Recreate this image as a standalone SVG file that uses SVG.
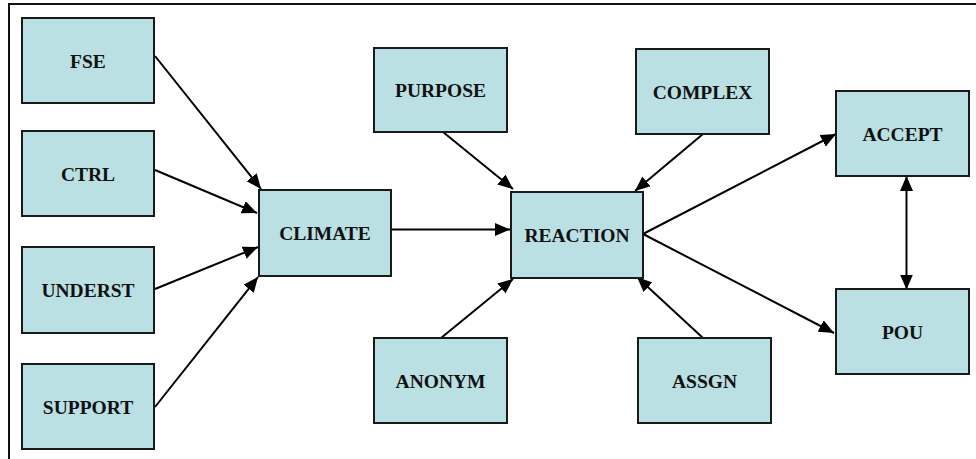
<svg xmlns="http://www.w3.org/2000/svg" width="976" height="459" viewBox="0 0 976 459">
  <style>
    .box { fill: #bae0e3; stroke: #1a1a1a; stroke-width: 2; }
    .lbl { font-weight: bold; font-size: 19.5px; fill: #111; text-anchor: middle; }
    .edge { stroke: #000; stroke-width: 2; fill: none; }
    .frame { stroke: #111; stroke-width: 2; fill: none; }
  </style>
  <defs>
    <marker id="head" markerUnits="userSpaceOnUse" markerWidth="16" markerHeight="14" refX="15" refY="6.5" orient="auto">
      <path d="M0,0 L15,6.5 L0,13 Z" fill="#000"/>
    </marker>
    <marker id="tail" markerUnits="userSpaceOnUse" markerWidth="16" markerHeight="14" refX="0" refY="6.5" orient="auto">
      <path d="M15,0 L0,6.5 L15,13 Z" fill="#000"/>
    </marker>
  </defs>
  <rect width="976" height="459" fill="#fff"/>
  <!-- outer frame: top and left sides -->
  <path class="frame" d="M976,4 H9 V459"/>

  <g id="connectors">
    <line class="edge" x1="155" y1="56" x2="261" y2="189" marker-end="url(#head)"/>
    <line class="edge" x1="155" y1="170" x2="257" y2="213" marker-end="url(#head)"/>
    <line class="edge" x1="155" y1="289" x2="258" y2="247" marker-end="url(#head)"/>
    <line class="edge" x1="155" y1="407" x2="258" y2="277" marker-end="url(#head)"/>
    <line class="edge" x1="391" y1="229.5" x2="510" y2="229.5" marker-end="url(#head)"/>
    <line class="edge" x1="443" y1="132" x2="513" y2="189" marker-end="url(#head)"/>
    <line class="edge" x1="703" y1="134" x2="635" y2="191" marker-end="url(#head)"/>
    <line class="edge" x1="441" y1="338" x2="513" y2="279" marker-end="url(#head)"/>
    <line class="edge" x1="703" y1="338" x2="637" y2="277" marker-end="url(#head)"/>
    <line class="edge" x1="643" y1="234" x2="836" y2="134" marker-end="url(#head)"/>
    <line class="edge" x1="643" y1="234" x2="834" y2="333" marker-end="url(#head)"/>
    <line class="edge" x1="906.5" y1="176" x2="906.5" y2="289.5" marker-start="url(#tail)" marker-end="url(#head)"/>
  </g>

  <g font-family="'Liberation Serif', 'DejaVu Serif', serif">
  <g id="FSE"><rect class="box" x="22" y="18" width="132" height="85"/><text class="lbl" x="88" y="67.5">FSE</text></g>
  <g id="CTRL"><rect class="box" x="22" y="131" width="132" height="85"/><text class="lbl" x="88" y="180.5">CTRL</text></g>
  <g id="UNDERST"><rect class="box" x="22" y="247" width="132" height="86"/><text class="lbl" x="88" y="297">UNDERST</text></g>
  <g id="SUPPORT"><rect class="box" x="22" y="364" width="132" height="85"/><text class="lbl" x="88" y="413.5">SUPPORT</text></g>
  <g id="CLIMATE"><rect class="box" x="259" y="190" width="132" height="86"/><text class="lbl" x="325" y="240">CLIMATE</text></g>
  <g id="PURPOSE"><rect class="box" x="374" y="48" width="133" height="84"/><text class="lbl" x="440.5" y="97">PURPOSE</text></g>
  <g id="COMPLEX"><rect class="box" x="636" y="49" width="133" height="85"/><text class="lbl" x="702.5" y="98.5">COMPLEX</text></g>
  <g id="REACTION"><rect class="box" x="511" y="192" width="132" height="86"/><text class="lbl" x="577" y="241.5">REACTION</text></g>
  <g id="ANONYM"><rect class="box" x="374" y="338" width="133" height="85"/><text class="lbl" x="440.5" y="387.5">ANONYM</text></g>
  <g id="ASSGN"><rect class="box" x="638" y="338" width="133" height="85"/><text class="lbl" x="704.5" y="387.5">ASSGN</text></g>
  <g id="ACCEPT"><rect class="box" x="836" y="91" width="133" height="85"/><text class="lbl" x="902.5" y="140.5">ACCEPT</text></g>
  <g id="POU"><rect class="box" x="836" y="289" width="133" height="85"/><text class="lbl" x="902.5" y="338.5">POU</text></g>
  </g>
</svg>
